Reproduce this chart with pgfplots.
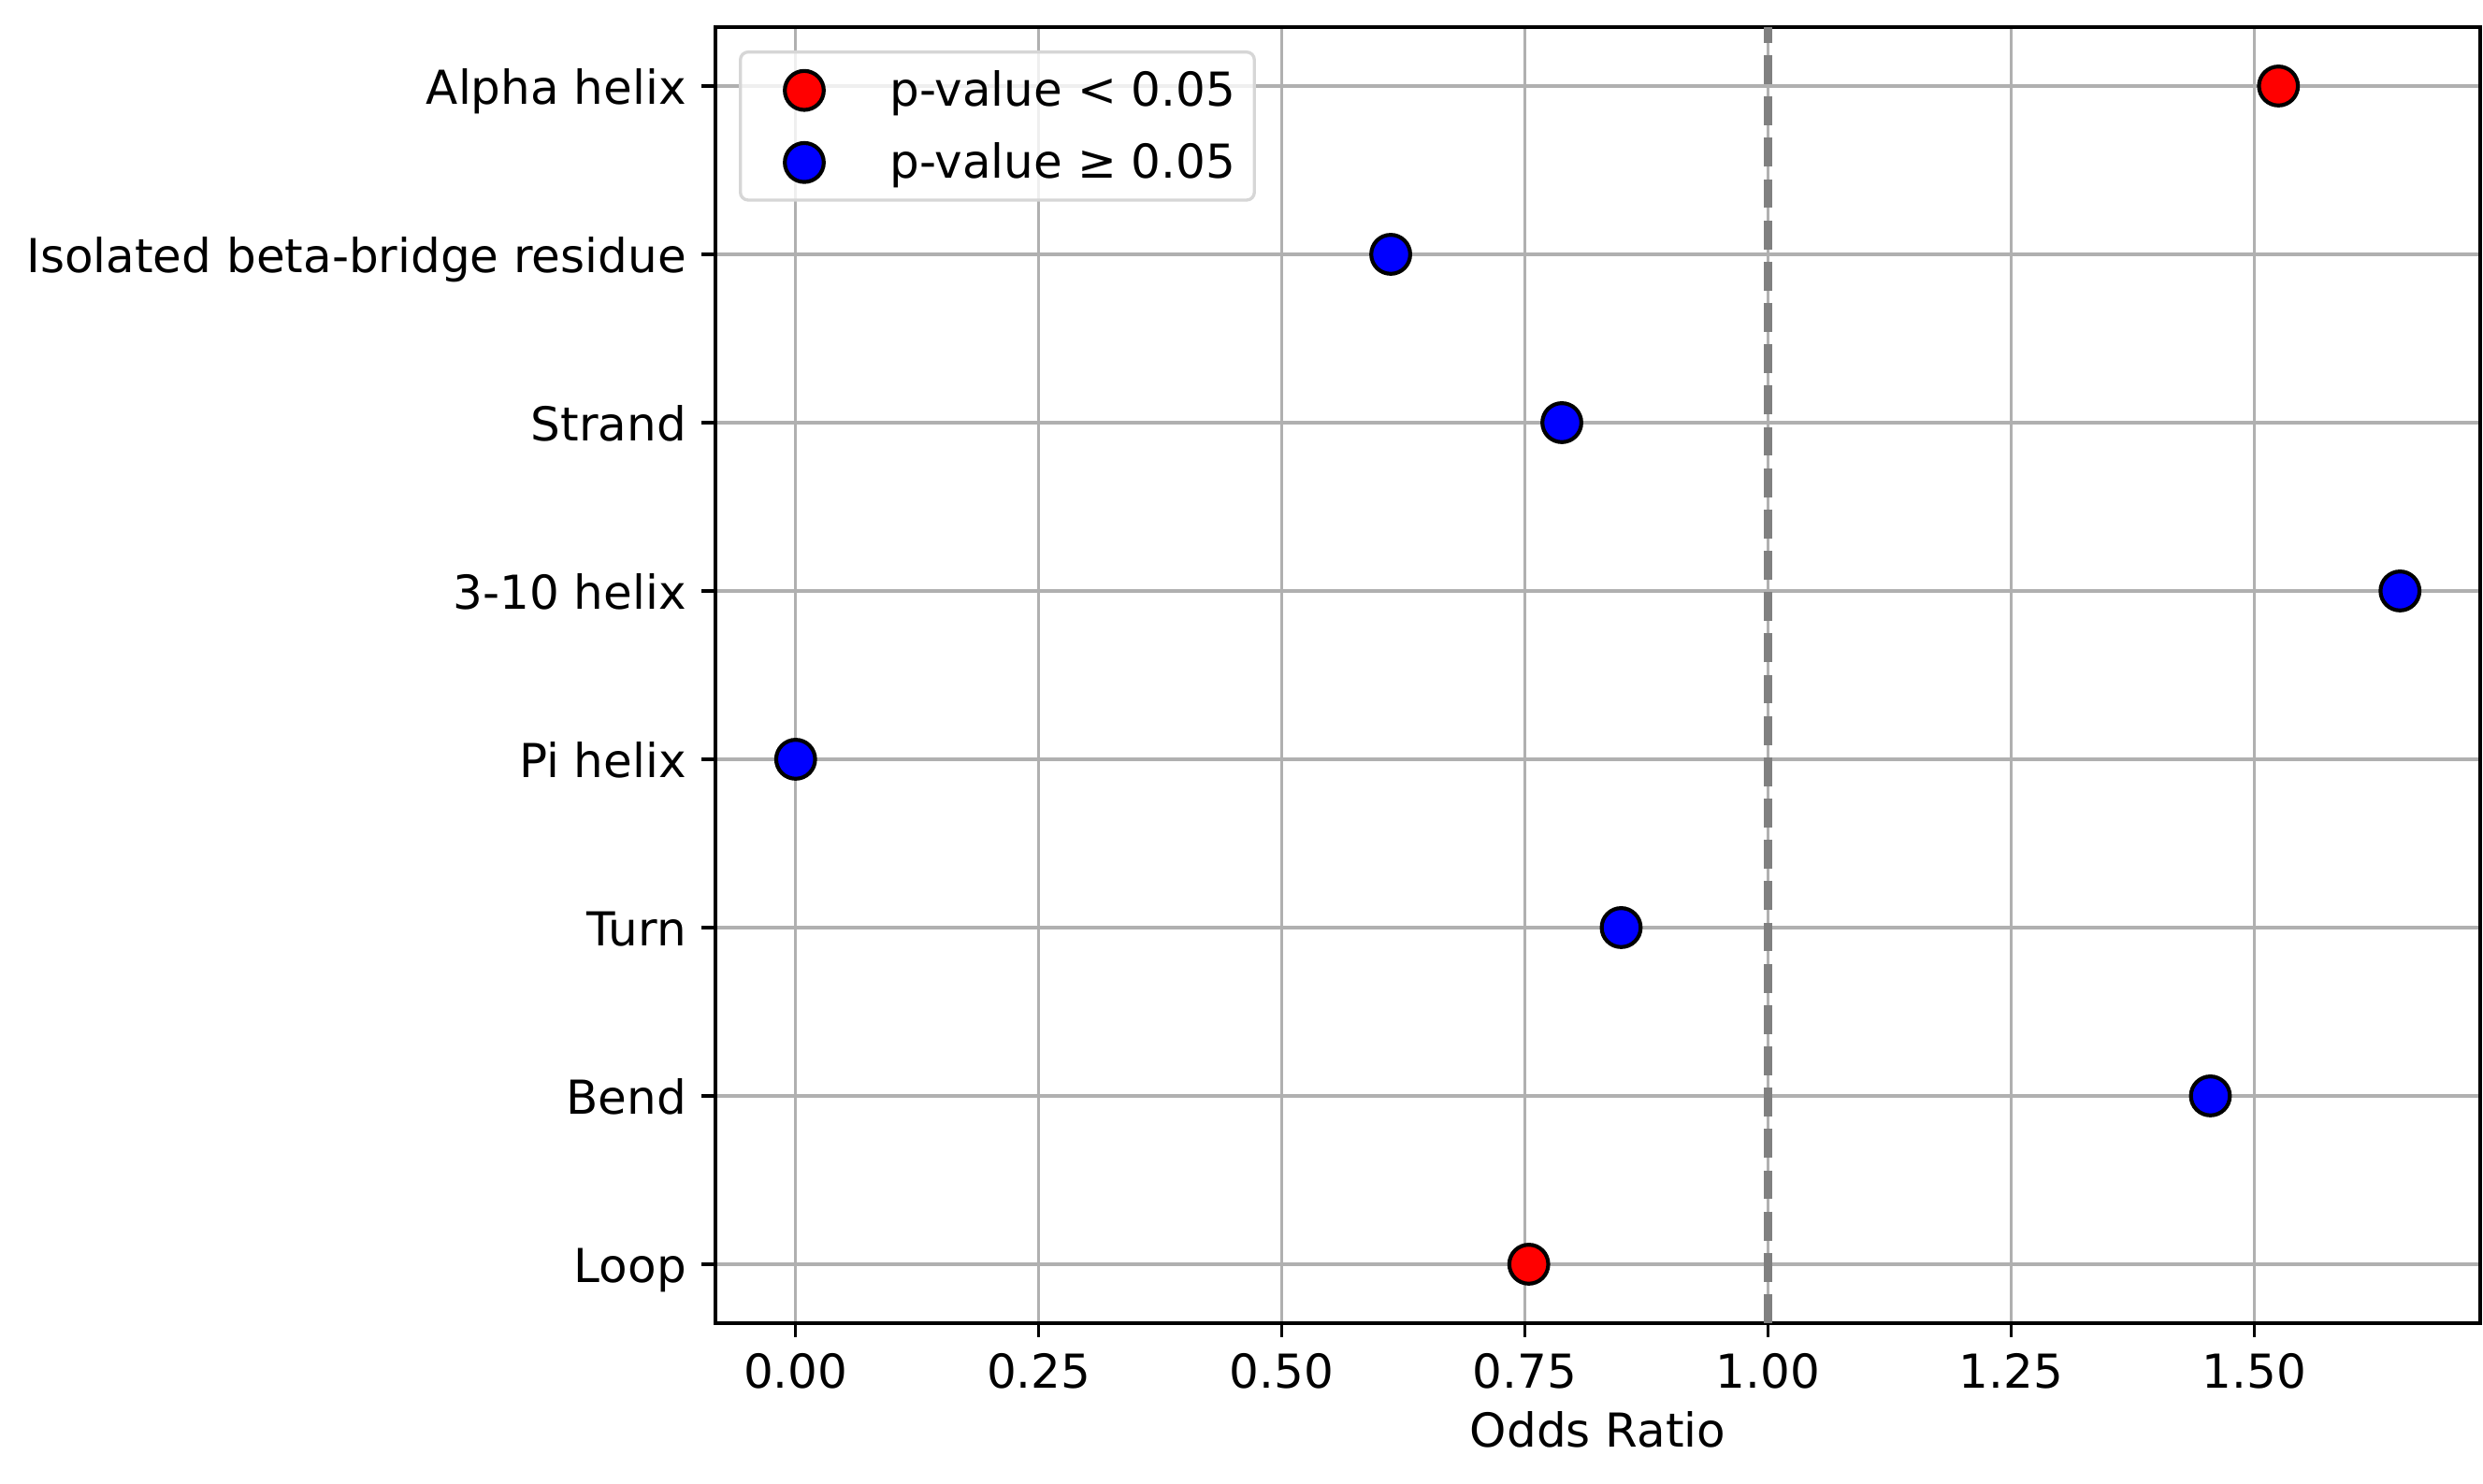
\documentclass[border=0pt]{standalone}
\usepackage{fontspec}
\setmainfont{DejaVu Sans}
\usepackage{pgfplots}
\pgfplotsset{compat=1.18}
\definecolor{gridgray}{HTML}{B0B0B0}
\definecolor{vgray}{HTML}{808080}
\definecolor{legframe}{HTML}{D6D6D6}
\pgfdeclarelayer{marks layer}
\pgfplotsset{
  layers/mylayers/.define layer set={
    axis background, marks layer, axis grid, axis ticks, axis lines, axis tick labels, pre main, main, axis descriptions, axis foreground
  }{grid style={/pgfplots/on layer=axis grid},
    tick style={/pgfplots/on layer=axis ticks},
    axis line style={/pgfplots/on layer=axis lines},
    label style={/pgfplots/on layer=axis descriptions},
    legend style={/pgfplots/on layer=axis foreground},
    title style={/pgfplots/on layer=axis descriptions},
    colorbar style={/pgfplots/on layer=axis descriptions},
    ticklabel style={/pgfplots/on layer=axis tick labels},
    axis background@ style={/pgfplots/on layer=axis background},
  },
}
\begin{document}
\fontsize{12bp}{14.4bp}\selectfont
\begin{tikzpicture}
\begin{axis}[
  set layers=mylayers,
  scale only axis,
  width=452.88bp, height=332.64bp,
  xmin=-0.0825, xmax=1.7325,
  ymin=-0.35, ymax=7.35,
  xtick={0,0.25,0.5,0.75,1,1.25,1.5},
  ytick={0,1,2,3,4,5,6,7},
  yticklabels={Loop, Bend, Turn, Pi helix, 3-10 helix, Strand, Isolated beta-bridge residue, Alpha helix},
  /pgf/number format/assume math mode=true,
  xticklabel style={/pgf/number format/fixed, /pgf/number format/fixed zerofill, /pgf/number format/precision=2},
  tick align=outside,
  tick pos=left,
  major tick length=3.5bp,
  every tick/.style={black, line width=0.8bp},
  axis line style={line width=0.8bp, black},
  xmajorgrids, ymajorgrids,
  grid style={gridgray, line width=0.8bp},
  x tick label style={inner sep=0pt, yshift=-4bp},
  y tick label style={inner sep=0pt, anchor=base east, xshift=-3.8bp, yshift=-4.8bp},
  xlabel={Odds Ratio},
  xlabel style={at={(axis description cs:0.5,0)}, anchor=base, yshift=-31.9bp, inner sep=0pt},
  legend cell align=left,
  legend style={at={(0,1)}, xshift=6bp, yshift=-6bp, anchor=north west,
    draw=legframe, line width=0.8bp, rounded corners=2bp,
    fill=white, fill opacity=0.8, draw opacity=1, text opacity=1,
    inner xsep=4.8bp, inner ysep=3.2bp, row sep=5.4bp,
    nodes={inner sep=0pt, text height=9bp, text depth=2.4bp},
    /tikz/every odd column/.style={column sep=8.7bp}},
  legend image code/.code={
    \path (0bp,0bp) (24bp,7bp);
    \draw[#1, fill opacity=1, draw opacity=1, overlay] plot coordinates {(11.2bp,0.75bp)};
  },
]
\addplot[only marks, on layer=marks layer, mark=*, mark size=5bp,
  mark options={draw=black, fill=red, line width=1bp}]
  coordinates {(1.525,7) (0.754,0)};
\addlegendentry{p-value < 0.05}
\addplot[only marks, on layer=marks layer, mark=*, mark size=5bp,
  mark options={draw=black, fill=blue, line width=1bp}]
  coordinates {(0.612,6) (0.788,5) (1.650,4) (0.000,3) (0.849,2) (1.455,1)};
\addlegendentry{p-value ≥ 0.05}
\addplot[vgray, line width=2bp, dash pattern=on 7.4bp off 3.2bp, forget plot]
  coordinates {(1,-0.35) (1,7.35)};
\end{axis}
\pgfresetboundingbox
\path (current axis.south west) ++(-183.6bp,-41.28bp) rectangle ([shift={(0.72bp,6.96bp)}]current axis.north east);
\end{tikzpicture}
\end{document}
